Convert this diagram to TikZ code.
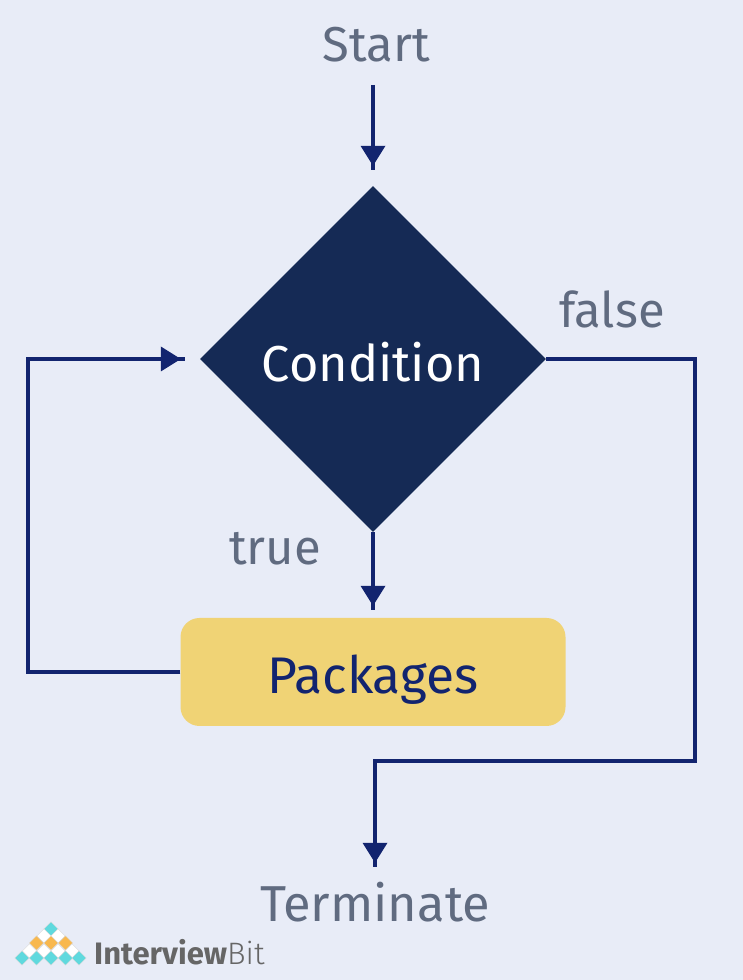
\documentclass[tikz,border=0pt]{standalone}
\usepackage{fontspec}
\setmainfont{Fira Sans}
\newfontfamily\logolight{Fira Sans Light}
\usetikzlibrary{shapes.geometric,arrows.meta,decorations.markings}
\definecolor{bgblue}{HTML}{E8ECF7}
\definecolor{linkblue}{HTML}{12246F}
\definecolor{condblue}{HTML}{152A55}
\definecolor{pkgyellow}{HTML}{F0D375}
\definecolor{labelgrey}{HTML}{606B80}
\definecolor{logogrey}{HTML}{666666}
\definecolor{logoteal}{HTML}{5FD9DE}
\definecolor{logoorange}{HTML}{F8B84E}
\tikzset{
  label/.style={text=labelgrey,font=\fontsize{49}{49}\selectfont,inner sep=0pt},
  flow/.style={draw=linkblue,line width=4.5pt,postaction={decorate},
    decoration={markings,mark=at position -4pt with {\arrow[fill=linkblue,line width=0pt]{Triangle[width=25pt,length=20pt]}}}},
  tile/.style={diamond,minimum size=14.5pt,inner sep=0pt,draw=white!70!gray,line width=0.4pt}
}
\begin{document}
\begin{tikzpicture}[x=1pt,y=1pt]
    \useasboundingbox[fill=bgblue] (0,0) rectangle (743,980);

    % -- Labels
    \node[label] (start) at (376,935) {Start};
    \node[label] (false) at (612,671) {false};
    \node[label] (true)  at (275,431) {true};
    \node[label,font=\fontsize{50.5}{50.5}\selectfont] (term) at (375,78) {Terminate};

    % -- Condition and body
    \node[diamond,aspect=1,fill=condblue,text=white,inner sep=0pt,minimum size=346pt,
      text height=46pt,text depth=0pt,font=\fontsize{50.5}{50.5}\selectfont] (cond) at (373,621) {Condition};
    \node[rectangle,rounded corners=19pt,fill=pkgyellow,text=linkblue,minimum width=385pt,
      minimum height=108pt,text height=44pt,text depth=0pt,font=\fontsize{51.5}{51.5}\selectfont] (pkg) at (373,308) {Packages};

    % -- Connectors
    \coordinate (leftup)   at (28,621);
    \coordinate (leftdown) at (28,308);
    \coordinate (rightup)  at (695,621);
    \coordinate (rightlow) at (695,219);
    \coordinate (midlow)   at (375,219);
    \path[flow] (373,895) -- ([yshift=16pt]cond.north);
    \path[flow] (cond.south) -- ([yshift=8pt]pkg.north);
    \path[flow] (pkg.west) -- (leftdown) -- (leftup) -- ([xshift=-15pt]cond.west);
    \path[flow] (cond.east) -- (rightup) -- (rightlow) -- (midlow) -- ([yshift=15pt]term.north);

    % -- Logo
    \foreach \col/\row/\shade in {51/51/logoteal,44/44/white,58/44/white,36.5/37/logoorange,51/37/logoorange,65.5/37/logoorange,
      29.5/29/white,44/29/white,58/29/white,72/29/white,
      22/22/logoteal,36.5/22/logoteal,51/22/logoteal,65.5/22/logoteal,79/22/logoteal}
      \node[tile,fill=\shade] at (\col,\row) {};
    \node[anchor=west,text=logogrey,inner sep=0pt,font=\fontsize{31}{31}\selectfont] (logo) at (94,28) {\textbf{Interview}{\logolight Bit}};
\end{tikzpicture}
\end{document}
